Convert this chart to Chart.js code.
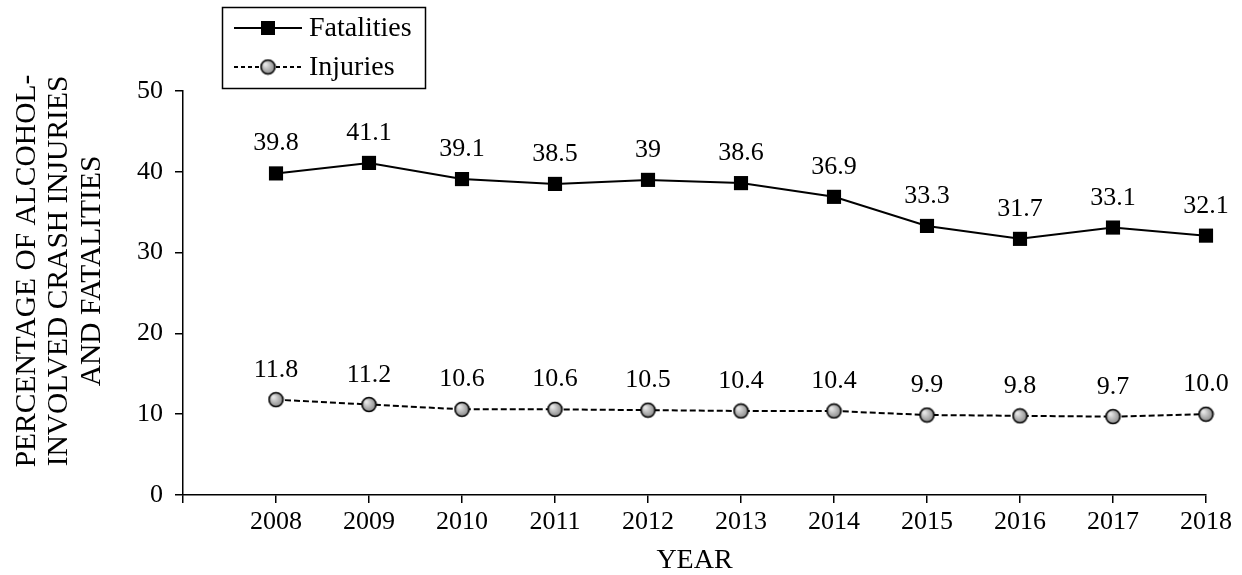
<!DOCTYPE html>
<html>
<head>
<meta charset="utf-8">
<script src="https://cdn.jsdelivr.net/npm/chart.js@4"></script>
<style>
  html, body { margin: 0; padding: 0; background: #fff; }
  #wrap { width: 1242px; height: 575px; }
</style>
</head>
<body>
<div id="wrap"><canvas id="crashChart"></canvas></div>
<script>
const years = [2008, 2009, 2010, 2011, 2012, 2013, 2014, 2015, 2016, 2017, 2018];
const fatalities = [39.8, 41.1, 39.1, 38.5, 39, 38.6, 36.9, 33.3, 31.7, 33.1, 32.1];
const injuries = [11.8, 11.2, 10.6, 10.6, 10.5, 10.4, 10.4, 9.9, 9.8, 9.7, 10.0];
const yTicks = [0, 10, 20, 30, 40, 50];
const yTitle = ['PERCENTAGE OF ALCOHOL-', 'INVOLVED CRASH INJURIES', 'AND FATALITIES'];

const FONT = '"Liberation Serif", "Times New Roman", serif';

// grey shaded marker used for the injuries series
function makeBall(r) {
  const c = document.createElement('canvas');
  const s = r * 2 + 3;
  c.width = s; c.height = s;
  const g = c.getContext('2d');
  const grad = g.createRadialGradient(s / 2 - r * 0.4, s / 2 - r * 0.4, 1, s / 2, s / 2, r);
  grad.addColorStop(0, '#e6e6e6');
  grad.addColorStop(1, '#8a8a8a');
  g.beginPath();
  g.arc(s / 2, s / 2, r, 0, Math.PI * 2);
  g.fillStyle = grad;
  g.fill();
  g.lineWidth = 1.6;
  g.strokeStyle = '#000';
  g.stroke();
  return c;
}
const ball = makeBall(7);

const valueLabels = {
  id: 'valueLabels',
  afterDatasetsDraw(chart) {
    const ctx = chart.ctx;
    ctx.save();
    ctx.font = '26px ' + FONT;
    ctx.fillStyle = '#000';
    ctx.textAlign = 'center';
    ctx.textBaseline = 'alphabetic';
    chart.data.datasets.forEach((ds, i) => {
      chart.getDatasetMeta(i).data.forEach((pt, j) => {
        const v = ds.data[j].y;
        const txt = i === 0 ? String(v) : v.toFixed(1);
        ctx.fillText(txt, pt.x, pt.y - 23);
      });
    });
    ctx.restore();
  }
};

// y title sits a bit above the axis middle in the original, so draw it by hand
const sideTitle = {
  id: 'sideTitle',
  afterDraw(chart) {
    const ctx = chart.ctx;
    ctx.save();
    ctx.translate(57.5, 271);
    ctx.rotate(-Math.PI / 2);
    ctx.font = '29.5px ' + FONT;
    ctx.fillStyle = '#000';
    ctx.textAlign = 'center';
    ctx.textBaseline = 'middle';
    yTitle.forEach((line, i) => ctx.fillText(line, 0, (i - 1) * 32.5 + 2));
    ctx.restore();
  }
};

const boxLegend = {
  id: 'boxLegend',
  afterDraw(chart) {
    const ctx = chart.ctx;
    ctx.save();
    ctx.strokeStyle = '#000';
    ctx.lineWidth = 1.5;
    ctx.strokeRect(222.5, 7.5, 203, 81);
    const rows = [{ y: 28, dash: [] }, { y: 67, dash: [4, 3] }];
    rows.forEach((r, i) => {
      ctx.lineWidth = 1.8;
      ctx.setLineDash(r.dash);
      ctx.beginPath();
      ctx.moveTo(234, r.y);
      ctx.lineTo(302, r.y);
      ctx.stroke();
      ctx.setLineDash([]);
      if (i === 0) {
        ctx.fillStyle = '#000';
        ctx.fillRect(261, r.y - 7, 14, 14);
      } else {
        ctx.drawImage(ball, 268 - ball.width / 2, r.y - ball.height / 2);
      }
      ctx.fillStyle = '#000';
      ctx.font = '28px ' + FONT;
      ctx.textBaseline = 'middle';
      ctx.textAlign = 'left';
      ctx.fillText(chart.data.datasets[i].label, 309, r.y + 1);
    });
    ctx.restore();
  }
};

new Chart(document.getElementById('crashChart'), {
  type: 'line',
  data: {
    datasets: [
      {
        label: 'Fatalities',
        data: years.map((yr, i) => ({ x: yr, y: fatalities[i] })),
        borderColor: '#000',
        borderWidth: 2,
        pointStyle: 'rect',
        pointRadius: 10,
        pointBackgroundColor: '#000',
        pointBorderColor: '#000',
        pointBorderWidth: 0,
        tension: 0,
        clip: false
      },
      {
        label: 'Injuries',
        data: years.map((yr, i) => ({ x: yr, y: injuries[i] })),
        borderColor: '#000',
        borderWidth: 2,
        borderDash: [6, 3],
        pointStyle: ball,
        pointRadius: 7,
        tension: 0,
        clip: false
      }
    ]
  },
  options: {
    responsive: true,
    maintainAspectRatio: false,
    animation: false,
    events: [],
    layout: { padding: { left: 0, right: 36, top: 91, bottom: 0 } },
    plugins: {
      legend: { display: false },
      tooltip: { enabled: false }
    },
    scales: {
      x: {
        type: 'linear',
        min: years[0] - 1,
        max: years[years.length - 1],
        afterFit: s => { s.height = 80; },
        afterBuildTicks: s => {
          s.ticks = [years[0] - 1, ...years].map(v => ({ value: v }));
        },
        ticks: {
          color: '#000',
          font: { family: FONT, size: 26 },
          padding: 4,
          maxRotation: 0,
          autoSkip: false,
          callback: v => (years.includes(v) ? String(v) : '')
        },
        grid: { drawOnChartArea: false, color: '#000', tickLength: 8, lineWidth: 1.5 },
        border: { color: '#000', width: 1.5 },
        title: {
          display: true,
          text: 'YEAR',
          color: '#000',
          font: { family: FONT, size: 28, lineHeight: 1 },
          padding: { top: 0, bottom: 0 }
        }
      },
      y: {
        min: 0,
        max: 50,
        afterFit: s => { s.width = 183; },
        afterBuildTicks: s => { s.ticks = yTicks.map(v => ({ value: v })); },
        ticks: {
          color: '#000',
          font: { family: FONT, size: 26 },
          padding: 12
        },
        grid: { drawOnChartArea: false, color: '#000', tickLength: 8, lineWidth: 1.5 },
        border: { color: '#000', width: 1.5 },
        title: { display: false }
      }
    }
  },
  plugins: [valueLabels, sideTitle, boxLegend]
});
</script>
</body>
</html>
